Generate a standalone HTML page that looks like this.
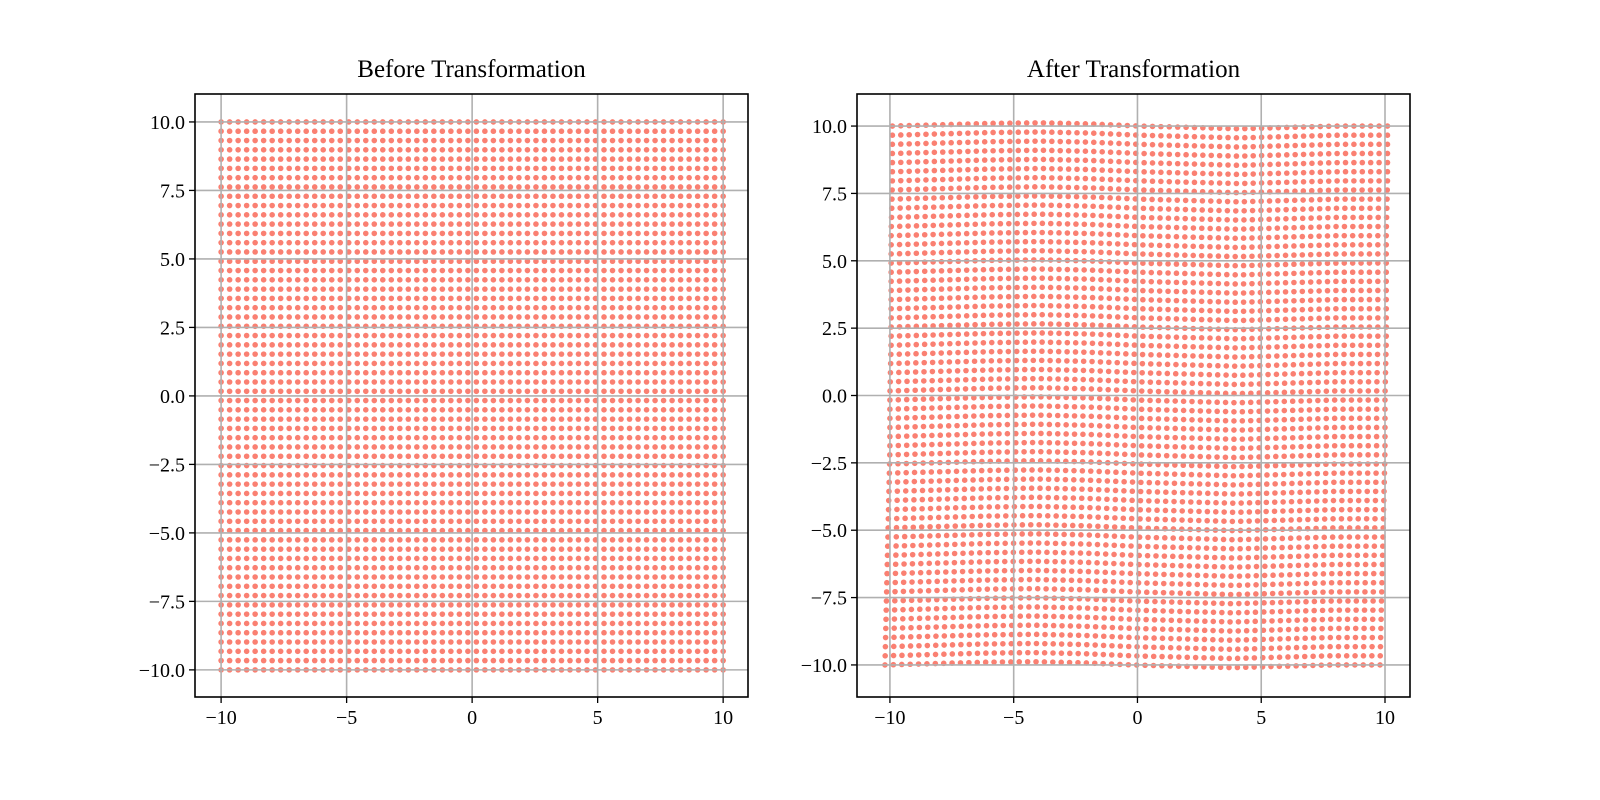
<!DOCTYPE html>
<html><head><meta charset="utf-8"><style>
body{margin:0;background:#fff}
svg{display:block}
text{font-family:"Liberation Serif","DejaVu Serif",serif;fill:#000}
</style></head><body>
<svg id="chart" width="1600" height="800" viewBox="0 0 1600 800" xmlns="http://www.w3.org/2000/svg"></svg>
<script>
// grid data: 60 evenly spaced values from -10 to 10
const gridValues = [-10,-9.661,-9.322,-8.983,-8.644,-8.305,-7.966,-7.627,-7.288,-6.949,-6.610,-6.271,-5.932,-5.593,-5.254,-4.915,-4.576,-4.237,-3.898,-3.559,-3.220,-2.881,-2.542,-2.203,-1.864,-1.525,-1.186,-0.847,-0.508,-0.169,0.169,0.508,0.847,1.186,1.525,1.864,2.203,2.542,2.881,3.220,3.559,3.898,4.237,4.576,4.915,5.254,5.593,5.932,6.271,6.610,6.949,7.288,7.627,7.966,8.305,8.644,8.983,9.322,9.661,10];
// estimated distortion after transformation (control values, at x/y = -10,-8,...,10)
const controlPos = [-10,-8,-6,-4,-2,0,2,4,6,8,10];
const yShiftByX = [0.0,0.05,0.1,0.12,0.08,0.0,-0.05,-0.1,-0.05,0.0,0.0];
const xShiftByY = [-0.2,-0.15,-0.1,-0.05,0.0,0.0,0.05,0.05,0.05,0.1,0.1];
const xTicks = [-10,-5,0,5,10];
const xTickLabels = ["\u221210","\u22125","0","5","10"];
const yTicks = [-10,-7.5,-5,-2.5,0,2.5,5,7.5,10];
const yTickLabels = ["\u221210.0","\u22127.5","\u22125.0","\u22122.5","0.0","2.5","5.0","7.5","10.0"];

const NS="http://www.w3.org/2000/svg";
const svg=document.getElementById('chart');
function mk(tag,attrs,parent){const e=document.createElementNS(NS,tag);for(const k in attrs)e.setAttribute(k,attrs[k]);(parent||svg).appendChild(e);return e;}
function lerp(pos,vals,v){for(let i=0;i<pos.length-1;i++){if(v<=pos[i+1]){const t=(v-pos[i])/(pos[i+1]-pos[i]);return vals[i]+t*(vals[i+1]-vals[i]);}}return vals[vals.length-1];}

function panel(name,box,xd,yd,title,transform){
  const g=mk('g',{});
  
  
  const sx=v=>box.l+(v-xd[0])/(xd[1]-xd[0])*(box.r-box.l);
  const sy=v=>box.b-(v-yd[0])/(yd[1]-yd[0])*(box.b-box.t);
  const pg=mk('g',{fill:'#fa8072'},g);
  
  
  for(const yv of gridValues){for(const xv of gridValues){
    let px=xv,py=yv;
    if(transform){px=xv+lerp(controlPos,xShiftByY,yv);py=yv+lerp(controlPos,yShiftByX,xv);}
    mk('circle',{cx:sx(px).toFixed(2),cy:sy(py).toFixed(2),r:2.8},pg);
  }}
  const gg=mk('g',{stroke:'#b0b0b0','stroke-width':1.6},g);
  
  
  xTicks.forEach(t=>mk('line',{x1:sx(t),x2:sx(t),y1:box.t,y2:box.b},gg));
  yTicks.forEach(t=>mk('line',{x1:box.l,x2:box.r,y1:sy(t),y2:sy(t)},gg));
  const f=mk('rect',{x:box.l,y:box.t,width:box.r-box.l,height:box.b-box.t,fill:'none',stroke:'#000','stroke-width':1.6},g);
  
  
  xTicks.forEach((t,i)=>{
    mk('line',{x1:sx(t),x2:sx(t),y1:box.b,y2:box.b+6,stroke:'#000','stroke-width':1.3},g);
    const tx=mk('text',{x:sx(t),y:box.b+27,'text-anchor':'middle','font-size':20},g);
    tx.textContent=xTickLabels[i];
    
    
  });
  yTicks.forEach((t,i)=>{
    mk('line',{x1:box.l-6,x2:box.l,y1:sy(t),y2:sy(t),stroke:'#000','stroke-width':1.3},g);
    const tx=mk('text',{x:box.l-10,y:sy(t)+7,'text-anchor':'end','font-size':20},g);
    tx.textContent=yTickLabels[i];
    
    
  });
  const tt=mk('text',{x:(box.l+box.r)/2,y:box.t-17,'text-anchor':'middle','font-size':25},g);
  tt.textContent=title;
  
  
}
panel('before-panel',{l:195,r:748,t:94,b:697},[-11.04,10.99],[-10.99,11.02],'Before Transformation',false);
panel('after-panel',{l:857,r:1410,t:94,b:697},[-11.33,11.01],[-11.19,11.19],'After Transformation',true);
</script>
</body></html>
